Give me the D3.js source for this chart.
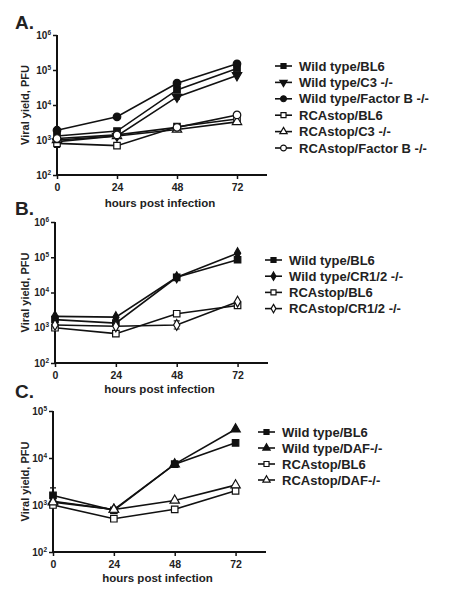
<!DOCTYPE html>
<html><head><meta charset="utf-8">
<script src="https://cdn.jsdelivr.net/npm/d3@7"></script>
<style>body{margin:0;background:#fff;} text{font-family:"Liberation Sans",Arial,sans-serif;font-weight:bold;fill:#222;}</style>
</head><body>
<svg id="c" width="450" height="600"></svg>
<script>
const hours = [0, 24, 48, 72];
const xTicks = [0, 24, 48, 72];

// Panel A
const aNames = ["Wild type/BL6", "Wild type/C3 -/-", "Wild type/Factor B -/-", "RCAstop/BL6", "RCAstop/C3 -/-", "RCAstop/Factor B -/-"];
const aShapes = ["square", "triangleDown", "circle", "square", "triangle", "circle"];
const aFilled = [true, true, true, false, false, false];
const aWT_BL6 = [1300, 1800, 27000, 110000];
const aWT_C3 = [900, 1300, 17000, 70000];
const aWT_FB = [1900, 4600, 42000, 150000];
const aRC_BL6 = [800, 690, 2400, 4000];
const aRC_C3 = [1000, 1300, 2000, 3300];
const aRC_FB = [1100, 1400, 2300, 5200];
const aErr = [[1.1,1.1,1.1,1.1],[1.1,1.1,1.15,1.1],[1.1,1.1,1.1,1.1],[1.3,1.1,1.1,1.1],[1.1,1.1,1.1,1.1],[1.1,1.1,1.1,1.1]];

// Panel B
const bNames = ["Wild type/BL6", "Wild type/CR1/2 -/-", "RCAstop/BL6", "RCAstop/CR1/2 -/-"];
const bShapes = ["square", "diamond", "square", "diamond"];
const bFilled = [true, true, false, false];
const bWT_BL6 = [1700, 1350, 27000, 85000];
const bWT_CR = [2100, 2000, 27000, 130000];
const bRC_BL6 = [1000, 680, 2500, 4300];
const bRC_CR = [1200, 1100, 1200, 5500];
const bErr = [[1.1,1.1,1.1,1.1],[1.1,1.1,1.1,1.1],[1.1,1.1,1.1,1.1],[1.1,1.1,1.3,1.1]];

// Panel C
const cNames = ["Wild type/BL6", "Wild type/DAF-/-", "RCAstop/BL6", "RCAstop/DAF-/-"];
const cShapes = ["square", "triangle", "square", "triangle"];
const cFilled = [true, true, false, false];
const cWT_BL6 = [1600, 770, 7400, 21000];
const cWT_DAF = [1200, 800, 7400, 41000];
const cRC_BL6 = [1000, 510, 810, 2000];
const cRC_DAF = [1150, 800, 1250, 2650];
const cErr = [[1.45,1.1,1.1,1.1],[1.1,1.1,1.1,1.1],[1.1,1.1,1.1,1.1],[1.1,1.1,1.1,1.1]];

const panels = [
  {label:"A.", lx:15, ly:29, x0:57, x1:267, yTop:35, yBot:175, yMax:6,
   names:aNames, shapes:aShapes, filled:aFilled, series:[aWT_BL6,aWT_C3,aWT_FB,aRC_BL6,aRC_C3,aRC_FB], err:aErr,
   legX:275, legY:66, legDy:16.4, xTitleY:207},
  {label:"B.", lx:15, ly:215, x0:55, x1:268, yTop:222, yBot:363, yMax:6,
   names:bNames, shapes:bShapes, filled:bFilled, series:[bWT_BL6,bWT_CR,bRC_BL6,bRC_CR], err:bErr,
   legX:265, legY:260, legDy:16.2, xTitleY:393},
  {label:"C.", lx:15, ly:398, x0:53, x1:266, yTop:411, yBot:552, yMax:5,
   names:cNames, shapes:cShapes, filled:cFilled, series:[cWT_BL6,cWT_DAF,cRC_BL6,cRC_DAF], err:cErr,
   legX:258, legY:432, legDy:16, xTitleY:582}
];

const svg = d3.select("#c");
const symMap = {square:d3.symbolSquare, circle:d3.symbolCircle, triangle:d3.symbolTriangle, triangleDown:d3.symbolTriangle, diamond:d3.symbolDiamond};
function sym(shape, k){
  const size = (shape==="square"?42 : shape==="circle"?45 : shape==="diamond"?34 : 38) * k;
  return d3.symbol().type(symMap[shape]).size(size)();
}
function drawMarker(g, shape, filled, x, y, k){
  g.append("path").attr("d", sym(shape, k))
    .attr("transform", `translate(${x},${y})` + (shape==="triangleDown"?" rotate(180)":""))
    .attr("fill", filled?"#111":"#fff").attr("stroke","#111").attr("stroke-width",1.2);
}

panels.forEach(p=>{
  const g = svg.append("g");
  const x = d3.scaleLinear().domain([0,84]).range([p.x0, p.x1]);
  const y = d3.scaleLog().domain([100, Math.pow(10,p.yMax)]).range([p.yBot, p.yTop]);
  g.append("text").attr("x",p.lx).attr("y",p.ly).attr("font-size",19).text(p.label);

  const yTickVals = d3.range(2, p.yMax+1).map(e=>Math.pow(10,e));
  const ya = g.append("g").attr("transform",`translate(${p.x0},0)`)
    .call(d3.axisLeft(y).tickValues(yTickVals).tickSize(4).tickFormat(""));
  ya.select(".domain").attr("stroke","#111").attr("stroke-width",2).attr("d",`M0,${p.yBot}V${p.yTop}`);
  ya.selectAll(".tick line").attr("stroke","#111").attr("stroke-width",1.5);
  yTickVals.forEach(v=>{
    const t = g.append("text").attr("x",p.x0-6).attr("y",y(v)+3.5).attr("text-anchor","end").attr("font-size",10);
    t.append("tspan").text("10");
    t.append("tspan").attr("dy",-4).attr("font-size",6.5).text(Math.round(Math.log10(v)));
  });
  const xa = g.append("g").attr("transform",`translate(0,${p.yBot})`)
    .call(d3.axisBottom(x).tickValues(xTicks).tickSize(4).tickFormat(d=>d));
  xa.select(".domain").attr("stroke","#111").attr("stroke-width",2).attr("d",`M${p.x0},0H${p.x1}`);
  xa.selectAll(".tick line").attr("stroke","#111").attr("stroke-width",1.5);
  xa.selectAll(".tick text").attr("font-size",10.5).attr("font-family","Liberation Sans, Arial, sans-serif").attr("font-weight","bold").attr("fill","#222").attr("dy","0.85em");

  g.append("text").attr("x",(p.x0+p.x1)/2 - 2).attr("y",p.xTitleY).attr("text-anchor","middle").attr("font-size",11.5).text("hours post infection");
  g.append("text").attr("transform",`translate(29,${(p.yTop+p.yBot)/2}) rotate(-90)`).attr("text-anchor","middle").attr("font-size",11).text("Viral yield, PFU");

  const line = d3.line().x((d,i)=>x(hours[i])).y(d=>y(d));
  p.series.forEach((s,si)=>{
    s.forEach((v,i)=>{
      const f = p.err[si][i];
      if(f<=1.12) return;
      const cx = x(hours[i]);
      g.append("path").attr("d",`M${cx},${y(v*f)}V${y(v/f)}M${cx-3},${y(v*f)}H${cx+3}M${cx-3},${y(v/f)}H${cx+3}`)
        .attr("stroke","#111").attr("stroke-width",1.2).attr("fill","none");
    });
  });
  p.series.forEach((s,si)=>{
    g.append("path").datum(s).attr("d",line).attr("fill","none").attr("stroke","#111").attr("stroke-width",1.6);
  });
  p.series.forEach((s,si)=>{
    s.forEach((v,i)=>drawMarker(g,p.shapes[si],p.filled[si],x(hours[i]),y(v),1));
  });
  p.names.forEach((n,i)=>{
    const ly = p.legY + i*p.legDy;
    g.append("line").attr("x1",p.legX).attr("x2",p.legX+17).attr("y1",ly).attr("y2",ly).attr("stroke","#111").attr("stroke-width",1.6);
    drawMarker(g,p.shapes[i],p.filled[i],p.legX+8.5,ly,0.6);
    g.append("text").attr("x",p.legX+24).attr("y",ly+4.5).attr("font-size",13).text(n);
  });
});
</script>
</body></html>
